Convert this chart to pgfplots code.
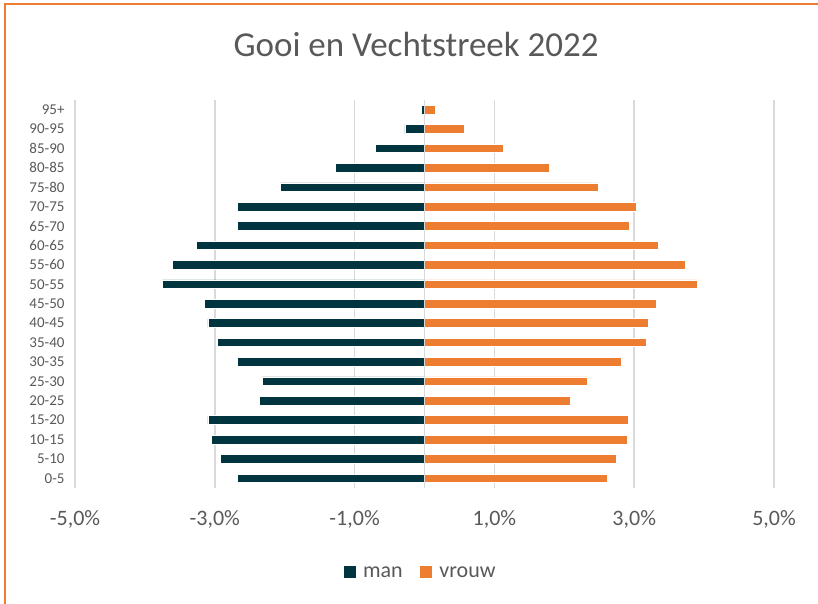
\documentclass[border=0pt]{standalone}
\usepackage{pgfplots}
\pgfplotsset{compat=1.18}
\usepackage{fontspec}
\setmainfont{Carlito}

\definecolor{mancol}{HTML}{003540}
\definecolor{vrouwcol}{HTML}{ED7D31}
\definecolor{txtgrey}{HTML}{595959}
\definecolor{gridgrey}{HTML}{D9D9D9}

% share of population per age group, in percent (man negative)
\pgfplotstableread{
y man vrouw
0  -2.68 2.61
1  -2.92 2.74
2  -3.05 2.90
3  -3.10 2.91
4  -2.36 2.09
5  -2.32 2.33
6  -2.68 2.82
7  -2.96 3.18
8  -3.10 3.20
9  -3.15 3.32
10 -3.75 3.90
11 -3.61 3.73
12 -3.26 3.34
13 -2.68 2.93
14 -2.68 3.03
15 -2.06 2.48
16 -1.28 1.79
17 -0.70 1.13
18 -0.28 0.57
19 -0.05 0.16
}\pyramid

\begin{document}
\begin{tikzpicture}
\useasboundingbox (-75pt,-116pt) rectangle (743pt,488pt);
% orange slide frame
\draw[vrouwcol, line width=2.2pt] (-70pt,-116pt) -- (-70pt,484pt) -- (743pt,484pt);
\begin{axis}[
  at={(0pt,0pt)}, anchor=south west,
  scale only axis, width=699pt, height=388pt,
  xbar, bar width=8.6pt, bar shift=0pt,
  xmin=-5, xmax=5, ymin=-0.5, ymax=19.5,
  xtick={-5,-3,-1,1,3,5},
  xticklabels={{-5,0\%},{-3,0\%},{-1,0\%},{1,0\%},{3,0\%},{5,0\%}},
  ytick={0,...,19},
  yticklabels={0-5,5-10,10-15,15-20,20-25,25-30,30-35,35-40,40-45,45-50,
    50-55,55-60,60-65,65-70,70-75,75-80,80-85,85-90,90-95,95+},
  xmajorgrids, ymajorgrids=false,
  grid style={gridgrey, line width=1.6pt},
  major tick length=0pt,
  axis line style={draw=none},
  xticklabel style={font=\fontsize{22}{24}\selectfont, text=txtgrey, yshift=-19pt},
  yticklabel style={font=\fontsize{15}{17}\selectfont, text=txtgrey, xshift=-7pt},
  title={Gooi en Vechtstreek 2022},
  title style={font=\fontsize{35}{39}\selectfont, text=txtgrey,
    at={(0.488,1.127)}, anchor=center},
  legend columns=2,
  legend style={draw=none, at={(0.4936,-0.219)}, anchor=center,
    font=\fontsize{22}{24}\selectfont, text=txtgrey,
    /tikz/every odd column/.append style={column sep=5pt},
    /tikz/every even column/.append style={column sep=14pt}},
  legend image code/.code={\fill[#1] (0pt,-4.5pt) rectangle (13pt,8.5pt);},
]
\addplot[fill=mancol, draw=white, line width=0.6pt] table[x=man, y=y] {\pyramid};
\addlegendentry{man}
\addplot[fill=vrouwcol, draw=white, line width=0.6pt] table[x=vrouw, y=y] {\pyramid};
\addlegendentry{vrouw}
\draw[gridgrey, line width=1.6pt] (axis cs:0,-0.5) -- (axis cs:0,19.5);
\end{axis}
\end{tikzpicture}
\end{document}
